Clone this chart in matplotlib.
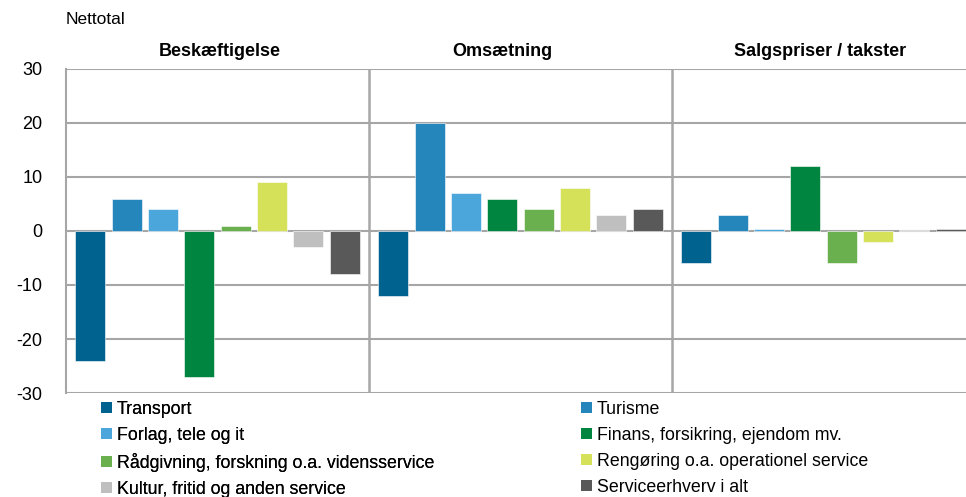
import numpy as np
import matplotlib.pyplot as plt
from matplotlib.patches import Patch

plt.rcParams['font.family'] = ['Liberation Sans Narrow', 'Liberation Sans', 'DejaVu Sans']

groups = ["Beskæftigelse", "Omsætning", "Salgspriser / takster"]
series = [
    "Transport",
    "Turisme",
    "Forlag, tele og it",
    "Finans, forsikring, ejendom mv.",
    "Rådgivning, forskning o.a. vidensservice",
    "Rengøring o.a. operationel service",
    "Kultur, fritid og anden service",
    "Serviceerhverv i alt",
]
colors = ["#00628F", "#2586BB", "#4BA6DC", "#008541",
          "#6AB04E", "#D6E15A", "#BFBFBF", "#595959"]

# values per series, one per group
transport   = [-24, -12, -6]
turisme     = [6, 20, 3]
forlag      = [4, 7, 0.3]
finans      = [-27, 6, 12]
raadgivning = [1, 4, -6]
rengoering  = [9, 8, -2]
kultur      = [-3, 3, 0.2]
service     = [-8, 4, 0.3]
values = [transport, turisme, forlag, finans, raadgivning, rengoering, kultur, service]

yticks = [-30, -20, -10, 0, 10, 20, 30]

fig = plt.figure(figsize=(9.66, 4.97), dpi=100)
ax = fig.add_axes([66 / 966, 1 - 393 / 497, 1 - 66 / 966, (393 - 69) / 497])

grid_c = "#A6A6A6"
x0 = np.arange(len(groups))
for j, (name, vals) in enumerate(zip(series, values)):
    ax.bar(x0 + 0.08 + 0.12 * j, vals, width=0.099, color=colors[j],
           edgecolor="white", linewidth=0.4, label=name, zorder=3)

ax.set_xlim(0, 900 / 303)
ax.set_ylim(-30, 30)
ax.set_yticks(yticks)
ax.set_yticklabels([str(t) for t in yticks], fontsize=13)
ax.tick_params(axis="y", length=0, pad=17)
ax.set_xticks([])
for y in yticks:
    ax.axhline(y, color=grid_c, linewidth=1.5, zorder=1)
for xs in [1, 2]:
    ax.axvline(xs, color=grid_c, linewidth=1.8, zorder=1)
for s in ["right", "top", "bottom"]:
    ax.spines[s].set_visible(False)
ax.spines["left"].set_color(grid_c)
ax.spines["left"].set_linewidth(1.5)

title_x = [0.508, 1.44, 2.49]
for tx, g in zip(title_x, groups):
    ax.text(tx, 33.3, g, ha="center", va="center", fontsize=13,
            fontweight="bold", transform=ax.transData)

fig.text(66 / 966, 1 - 20 / 497, "Nettotal", ha="left", va="center", fontsize=12.5)

handles = [Patch(facecolor=c, edgecolor="none") for c in colors]
kw = dict(frameon=False, fontsize=12.8, handlelength=0.6, handleheight=0.6,
          handletextpad=0.3, labelspacing=0.5, borderpad=0, borderaxespad=0)
leg1 = fig.legend([handles[i] for i in [0, 2, 4, 6]], [series[i] for i in [0, 2, 4, 6]],
                  loc="upper left", bbox_to_anchor=(101 / 966, 1 - 401 / 497), **kw)
fig.add_artist(leg1)
fig.legend([handles[i] for i in [1, 3, 5, 7]], [series[i] for i in [1, 3, 5, 7]],
           loc="upper left", bbox_to_anchor=(581 / 966, 1 - 401 / 497), **kw)

fig.savefig("out.png", dpi=100)
